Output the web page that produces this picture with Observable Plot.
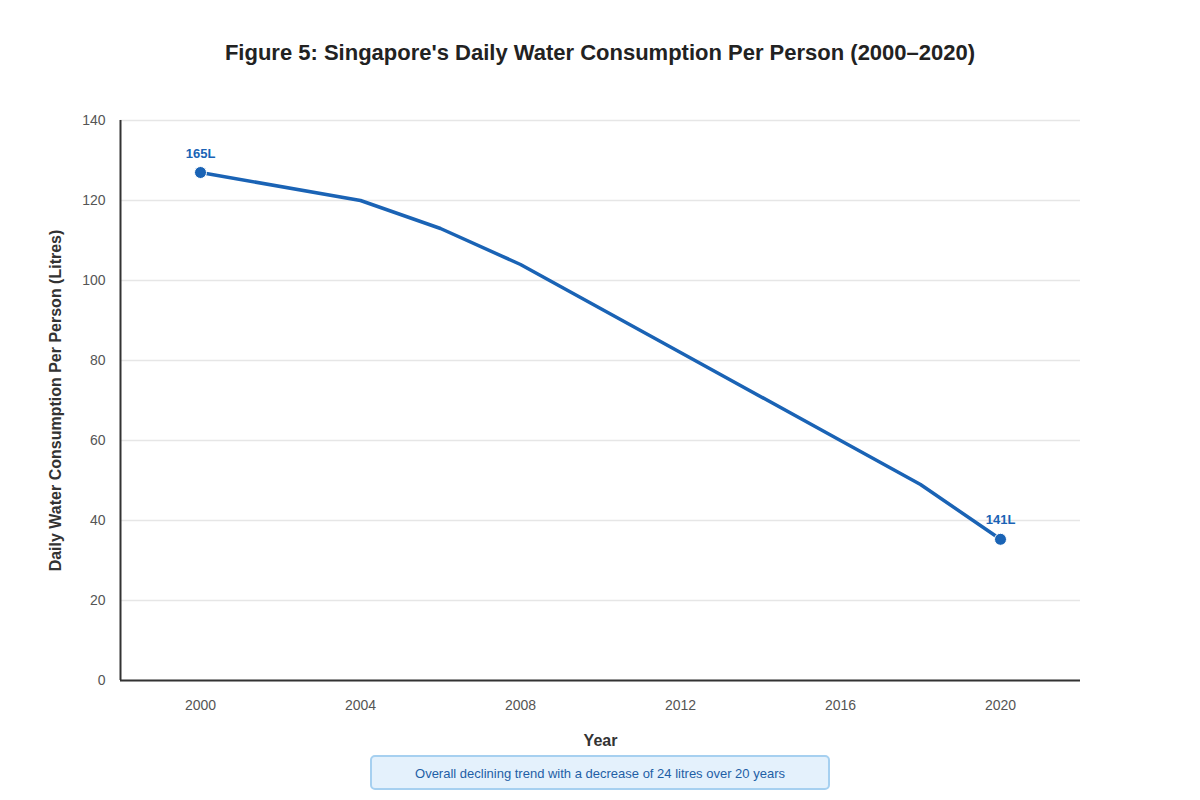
<!DOCTYPE html>
<html>
<head>
<meta charset="utf-8">
<script src="https://cdn.jsdelivr.net/npm/d3@7"></script>
<script src="https://cdn.jsdelivr.net/npm/@observablehq/plot@0.6"></script>
<style>
  html, body { margin: 0; padding: 0; background: #fff; }
  #wrap { position: relative; width: 1200px; height: 800px; font-family: "Liberation Sans", Arial, sans-serif; }
  #title { position: absolute; top: 40px; left: 0; width: 1200px; text-align: center; font-size: 22px; font-weight: bold; color: #222; }
  #chart { position: absolute; top: 100px; left: 0; }
  #note { position: absolute; left: 370px; top: 755px; width: 456px; height: 31px; border: 2px solid #a6d0f0; border-radius: 5px; background: #e4f1fc; color: #1f5fa6; font-size: 13px; text-align: center; line-height: 33px; }
</style>
</head>
<body>
<div id="wrap">
  <div id="title">Figure 5: Singapore's Daily Water Consumption Per Person (2000–2020)</div>
  <div id="chart"></div>
  <div id="note">Overall declining trend with a decrease of 24 litres over 20 years</div>
</div>
<script>
const years = [2000, 2004, 2006, 2008, 2012, 2016, 2018, 2020];
const values = [127, 120, 113, 104, 82, 60, 49, 35.3];
const endLabels = ["165L", "141L"];
const endIdx = [0, years.length - 1];
const xTicks = [2000, 2004, 2008, 2012, 2016, 2020];
const yTicks = [0, 20, 40, 60, 80, 100, 120, 140];
const xLabel = "Year";
const yLabel = "Daily Water Consumption Per Person (Litres)";

const data = years.map((y, i) => ({year: y, value: values[i]}));
const ends = endIdx.map((i, k) => ({year: years[i], value: values[i], label: endLabels[k]}));
const blue = "#1a63b5";

const chart = Plot.plot({
  width: 1200,
  height: 650,
  marginLeft: 120,
  marginRight: 120,
  marginTop: 20,
  marginBottom: 70,
  style: {fontFamily: "Liberation Sans, Arial, sans-serif", background: "transparent", overflow: "visible"},
  x: {domain: [1998, 2022], ticks: xTicks, tickFormat: "d", label: null},
  y: {domain: [0, 140], ticks: yTicks, label: null},
  marks: [
    Plot.gridY(yTicks, {stroke: "#e6e6e6", strokeOpacity: 1, strokeWidth: 1.5}),
    Plot.axisX(xTicks, {tickSize: 0, tickPadding: 20, fontSize: 14, color: "#555", tickFormat: "d", label: null}),
    Plot.axisY(yTicks, {tickSize: 0, tickPadding: 15, fontSize: 14, color: "#555", label: null}),
    Plot.ruleX([1998], {stroke: "#333", strokeWidth: 2}),
    Plot.ruleY([0], {stroke: "#333", strokeWidth: 2}),
    Plot.line(data, {x: "year", y: "value", stroke: blue, strokeWidth: 3.5}),
    Plot.dot(ends, {x: "year", y: "value", r: 6, fill: blue, stroke: "white", strokeWidth: 1}),
    Plot.text(ends, {x: "year", y: "value", text: "label", dy: -19, fill: blue, fontWeight: "bold", fontSize: 13}),
    Plot.text([xLabel], {frameAnchor: "bottom", dy: 65, fontWeight: "bold", fontSize: 16, fill: "#333"}),
    Plot.text([yLabel], {frameAnchor: "left", textAnchor: "middle", rotate: -90, dx: -65, fontWeight: "bold", fontSize: 16, fill: "#333"})
  ]
});
document.getElementById("chart").appendChild(chart);
</script>
</body>
</html>
